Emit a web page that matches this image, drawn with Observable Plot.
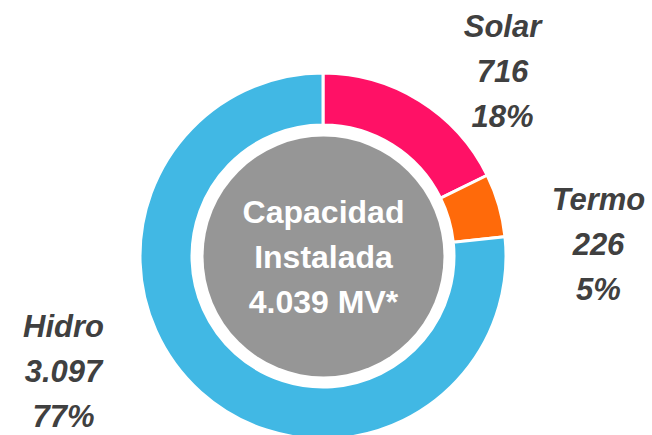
<!DOCTYPE html>
<html>
<head>
<meta charset="utf-8">
<script src="https://cdn.jsdelivr.net/npm/d3@7"></script>
<script src="https://cdn.jsdelivr.net/npm/@observablehq/plot@0.6"></script>
<style>
  html, body { margin: 0; padding: 0; background: #fff; }
</style>
</head>
<body>
<div id="chart"></div>
<script>
// ---- data ----
const categories = ["Solar", "Termo", "Hidro"];
const values = [716, 226, 3097];
const valueLabels = ["716", "226", "3.097"];
const percentLabels = ["18%", "5%", "77%"];
const colors = ["#FF1166", "#FF6A0A", "#41B8E4"];
const centerLines = ["Capacidad", "Instalada", "4.039 MV*"];

// ---- layout ----
const W = 652, H = 435;
const cx = 323, cy = 256;
const outerR = 183, innerR = 131, holeR = 120;
const labelAnchors = [[502, 27], [598, 200], [63, 327]];
const lineGap = 45;

const pie = d3.pie().sort(null).value(d => d.value);
const slices = pie(categories.map((c, i) => ({category: c, value: values[i], color: colors[i]})));

const labelRows = [];
categories.forEach((c, i) => {
  const [lx, ly] = labelAnchors[i];
  [c, valueLabels[i], percentLabels[i]].forEach((t, k) => {
    labelRows.push({x: lx, y: ly + k * lineGap, text: t});
  });
});
const centerRows = centerLines.map((t, k) => ({x: cx, y: cy - 44 + k * 45, text: t}));

function donutMark(index, scales) {
  const g = d3.create("svg:g");
  const px = scales.x(cx), py = scales.y(cy);
  const arc = d3.arc().innerRadius(innerR).outerRadius(outerR);
  g.selectAll("path")
    .data(slices)
    .join("path")
    .attr("transform", `translate(${px},${py})`)
    .attr("d", arc)
    .attr("fill", d => d.data.color)
    .attr("stroke", "#fff")
    .attr("stroke-width", 3)
    .attr("stroke-linejoin", "miter");
  return g.node();
}

const chart = Plot.plot({
  width: W,
  height: H,
  margin: 0,
  x: {domain: [0, W], range: [0, W], axis: null},
  y: {domain: [0, H], range: [0, H], axis: null},
  style: {background: "#fff", overflow: "hidden"},
  marks: [
    donutMark,
    Plot.dot([{x: cx, y: cy}], {x: "x", y: "y", r: holeR, fill: "#969696", stroke: null}),
    Plot.text(centerRows, {
      x: "x", y: "y", text: "text",
      fill: "#fff", fontSize: 32, fontWeight: "bold",
      fontFamily: "Liberation Sans, Arial, sans-serif",
      textAnchor: "middle"
    }),
    Plot.text(labelRows, {
      x: "x", y: "y", text: "text",
      fill: "#404040", fontSize: 31, fontWeight: "bold", fontStyle: "italic",
      fontFamily: "Liberation Sans, Arial, sans-serif",
      textAnchor: "middle"
    })
  ]
});
document.getElementById("chart").appendChild(chart);
</script>
</body>
</html>
